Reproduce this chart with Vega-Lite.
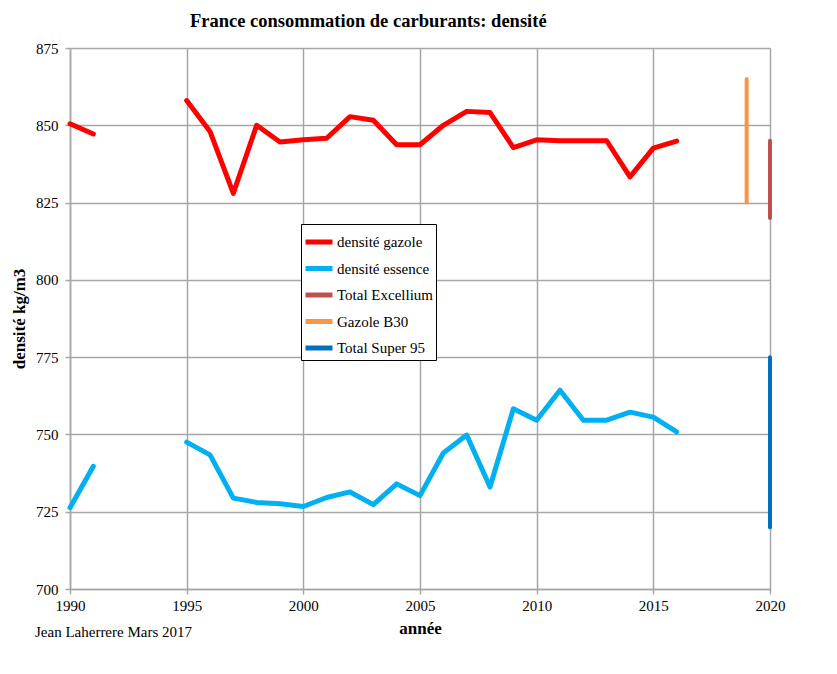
{
  "$schema": "https://vega.github.io/schema/vega-lite/v6.json",
  "width": 700,
  "height": 541,
  "autosize": {"type": "none"},
  "padding": {"left": 70, "top": 48, "right": 67, "bottom": 85},
  "background": "white",
  "config": {
    "font": "Liberation Serif",
    "view": {"stroke": null},
    "axis": {
      "gridColor": "#A6A6A6",
      "gridWidth": 1.5,
      "domainColor": "#A6A6A6",
      "domainWidth": 1.5,
      "tickColor": "#A6A6A6",
      "tickWidth": 1.5,
      "tickSize": 5,
      "labelColor": "black",
      "labelFont": "Liberation Serif",
      "labelFontSize": 15,
      "titleColor": "black",
      "titleFont": "Liberation Serif",
      "titleFontSize": 17,
      "titleFontWeight": "bold"
    }
  },
  "title": {
    "text": "France consommation de carburants: densité",
    "font": "Liberation Serif",
    "fontSize": 18.5,
    "fontWeight": "bold",
    "color": "black",
    "anchor": "start",
    "frame": "group",
    "dx": 120,
    "offset": 11
  },
  "datasets": {
    "lignes": [
      {"annee": 1990, "serie": "densité gazole", "seg": "g1", "valeur": 850.5},
      {"annee": 1991, "serie": "densité gazole", "seg": "g1", "valeur": 847.2},
      {"annee": 1995, "serie": "densité gazole", "seg": "g2", "valeur": 858},
      {"annee": 1996, "serie": "densité gazole", "seg": "g2", "valeur": 848},
      {"annee": 1997, "serie": "densité gazole", "seg": "g2", "valeur": 828},
      {"annee": 1998, "serie": "densité gazole", "seg": "g2", "valeur": 850},
      {"annee": 1999, "serie": "densité gazole", "seg": "g2", "valeur": 844.6},
      {"annee": 2000, "serie": "densité gazole", "seg": "g2", "valeur": 845.3},
      {"annee": 2001, "serie": "densité gazole", "seg": "g2", "valeur": 845.8},
      {"annee": 2002, "serie": "densité gazole", "seg": "g2", "valeur": 852.8},
      {"annee": 2003, "serie": "densité gazole", "seg": "g2", "valeur": 851.6},
      {"annee": 2004, "serie": "densité gazole", "seg": "g2", "valeur": 843.7},
      {"annee": 2005, "serie": "densité gazole", "seg": "g2", "valeur": 843.7},
      {"annee": 2006, "serie": "densité gazole", "seg": "g2", "valeur": 850},
      {"annee": 2007, "serie": "densité gazole", "seg": "g2", "valeur": 854.5},
      {"annee": 2008, "serie": "densité gazole", "seg": "g2", "valeur": 854.1},
      {"annee": 2009, "serie": "densité gazole", "seg": "g2", "valeur": 842.8},
      {"annee": 2010, "serie": "densité gazole", "seg": "g2", "valeur": 845.3},
      {"annee": 2011, "serie": "densité gazole", "seg": "g2", "valeur": 845},
      {"annee": 2012, "serie": "densité gazole", "seg": "g2", "valeur": 845},
      {"annee": 2013, "serie": "densité gazole", "seg": "g2", "valeur": 845},
      {"annee": 2014, "serie": "densité gazole", "seg": "g2", "valeur": 833.3},
      {"annee": 2015, "serie": "densité gazole", "seg": "g2", "valeur": 842.6},
      {"annee": 2016, "serie": "densité gazole", "seg": "g2", "valeur": 844.9},
      {"annee": 1990, "serie": "densité essence", "seg": "e1", "valeur": 726.3},
      {"annee": 1991, "serie": "densité essence", "seg": "e1", "valeur": 739.7},
      {"annee": 1995, "serie": "densité essence", "seg": "e2", "valeur": 747.5},
      {"annee": 1996, "serie": "densité essence", "seg": "e2", "valeur": 743.4},
      {"annee": 1997, "serie": "densité essence", "seg": "e2", "valeur": 729.4},
      {"annee": 1998, "serie": "densité essence", "seg": "e2", "valeur": 728},
      {"annee": 1999, "serie": "densité essence", "seg": "e2", "valeur": 727.6},
      {"annee": 2000, "serie": "densité essence", "seg": "e2", "valeur": 726.7},
      {"annee": 2001, "serie": "densité essence", "seg": "e2", "valeur": 729.6},
      {"annee": 2002, "serie": "densité essence", "seg": "e2", "valeur": 731.4},
      {"annee": 2003, "serie": "densité essence", "seg": "e2", "valeur": 727.3},
      {"annee": 2004, "serie": "densité essence", "seg": "e2", "valeur": 734},
      {"annee": 2005, "serie": "densité essence", "seg": "e2", "valeur": 730.2},
      {"annee": 2006, "serie": "densité essence", "seg": "e2", "valeur": 744},
      {"annee": 2007, "serie": "densité essence", "seg": "e2", "valeur": 749.8},
      {"annee": 2008, "serie": "densité essence", "seg": "e2", "valeur": 733},
      {"annee": 2009, "serie": "densité essence", "seg": "e2", "valeur": 758.3},
      {"annee": 2010, "serie": "densité essence", "seg": "e2", "valeur": 754.6},
      {"annee": 2011, "serie": "densité essence", "seg": "e2", "valeur": 764.3},
      {"annee": 2012, "serie": "densité essence", "seg": "e2", "valeur": 754.6},
      {"annee": 2013, "serie": "densité essence", "seg": "e2", "valeur": 754.6},
      {"annee": 2014, "serie": "densité essence", "seg": "e2", "valeur": 757.2},
      {"annee": 2015, "serie": "densité essence", "seg": "e2", "valeur": 755.6},
      {"annee": 2016, "serie": "densité essence", "seg": "e2", "valeur": 750.8}
    ],
    "barres": [
      {"annee": 2020, "serie": "Total Excellium", "bas": 820, "haut": 845},
      {"annee": 2019, "serie": "Gazole B30", "bas": 825, "haut": 865},
      {"annee": 2020, "serie": "Total Super 95", "bas": 720, "haut": 775}
    ],
    "note": [
      {"texte": "Jean Laherrere Mars 2017"}
    ]
  },
  "layer": [
    {
      "data": {"name": "lignes"},
      "mark": {"type": "line", "strokeWidth": 5, "strokeCap": "round", "strokeJoin": "round"},
      "encoding": {
        "x": {
          "field": "annee", "type": "quantitative",
          "scale": {"domain": [1990, 2020], "nice": false, "zero": false},
          "axis": {"title": "année", "values": [1990, 1995, 2000, 2005, 2010, 2015, 2020], "format": "d", "labelPadding": 4, "titlePadding": 7, "labelFlush": false}
        },
        "y": {
          "field": "valeur", "type": "quantitative",
          "scale": {"domain": [700, 875], "nice": false, "zero": false},
          "axis": {"title": "densité kg/m3", "values": [700, 725, 750, 775, 800, 825, 850, 875], "labelPadding": 7, "titlePadding": 7}
        },
        "color": {
          "field": "serie", "type": "nominal",
          "scale": {
            "domain": ["densité gazole", "densité essence", "Total Excellium", "Gazole B30", "Total Super 95"],
            "range": ["#FF0000", "#00B0F0", "#C0504D", "#F79646", "#0070C0"]
          },
          "legend": {
            "title": null,
            "orient": "none",
            "legendX": 231,
            "legendY": 176,
            "symbolType": "stroke",
            "symbolSize": 729,
            "symbolStrokeWidth": 5,
            "labelFont": "Liberation Serif",
            "labelFontSize": 15,
            "labelColor": "black",
            "labelOffset": 2,
            "rowPadding": 0.5,
            "padding": 2,
            "strokeColor": "black",
            "fillColor": "white",
            "labelLimit": 200
          }
        },
        "detail": {"field": "seg"}
      }
    },
    {
      "data": {"name": "barres"},
      "mark": {"type": "rule", "strokeWidth": 4, "strokeCap": "round"},
      "encoding": {
        "x": {"field": "annee", "type": "quantitative"},
        "y": {"field": "bas", "type": "quantitative"},
        "y2": {"field": "haut"},
        "color": {"field": "serie", "type": "nominal"}
      }
    },
    {
      "data": {"name": "note"},
      "mark": {"type": "text", "align": "left", "baseline": "middle", "fontSize": 15, "font": "Liberation Serif", "color": "black", "dx": -35, "dy": 43},
      "encoding": {
        "x": {"datum": 1990},
        "y": {"datum": 700},
        "text": {"field": "texte"}
      }
    }
  ]
}
